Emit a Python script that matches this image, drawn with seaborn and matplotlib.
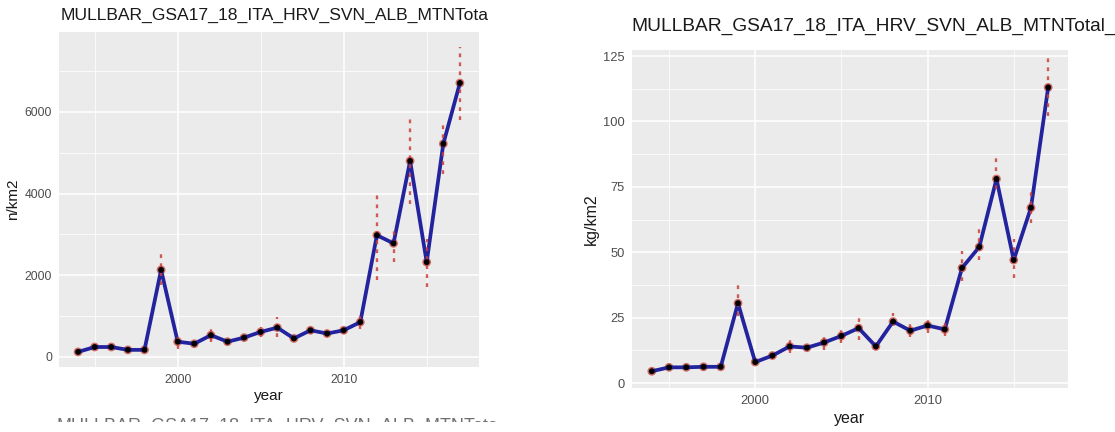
import matplotlib
matplotlib.use("Agg")
import matplotlib.pyplot as plt
from matplotlib.ticker import MultipleLocator
from matplotlib.patches import Rectangle
import seaborn as sns
import pandas as pd

# ---- data -------------------------------------------------------------
years = list(range(1994, 2018))

# abundance index (n/km2) with lower / upper bounds
dens = [120, 240, 240, 170, 170, 2130, 370, 320, 530, 370, 470, 610,
        715, 450, 650, 570, 650, 850, 2980, 2780, 4800, 2320, 5220, 6710]
dens_lo = [80, 200, 200, 130, 130, 1750, 200, 260, 370, 300, 400, 490,
           490, 380, 570, 490, 570, 690, 1870, 2320, 3740, 1720, 4470, 5810]
dens_hi = [160, 280, 280, 210, 210, 2560, 490, 380, 690, 440, 610, 730,
           980, 520, 750, 650, 770, 1060, 4020, 3210, 5850, 2890, 5730, 7600]

# biomass index (kg/km2) with lower / upper bounds
biom = [4.5, 6, 6, 6.2, 6.2, 30.5, 8, 10.5, 14, 13.5, 15.5, 18,
        21, 14, 23.5, 20, 22, 20.5, 44, 52, 78, 47, 67, 113]
biom_lo = [3.5, 5, 5, 5.2, 5.2, 25.5, 7, 9, 11.5, 12.5, 12.8, 15.3,
           16.6, 12.8, 22, 17.6, 19, 18, 39, 47, 74, 40.2, 61, 102]
biom_hi = [5.5, 7, 7, 7.2, 7.2, 37.6, 9, 12, 17.2, 15.3, 18.5, 20.4,
           26.5, 15.3, 26.8, 23, 24.9, 23.6, 50.4, 58.7, 86.8, 54.9, 74.6, 125]

title_left = "MULLBAR_GSA17_18_ITA_HRV_SVN_ALB_MTNTota"
title_right = "MULLBAR_GSA17_18_ITA_HRV_SVN_ALB_MTNTotal_"

# ---- style ------------------------------------------------------------
sns.set_theme(style="darkgrid", rc={
    "axes.facecolor": "#EBEBEB",
    "grid.color": "white",
    "axes.edgecolor": "#EBEBEB",
})
plt.rcParams["font.family"] = ["Liberation Sans", "DejaVu Sans"]

W, H = 1115, 432
fig = plt.figure(figsize=(W / 100, H / 100), dpi=100)
fig.patch.set_facecolor("white")


def px_axes(left, top, right, bottom):
    return fig.add_axes([left / W, 1 - bottom / H, (right - left) / W, (bottom - top) / H])


LINE_C = "#23239E"
ERR_C = "#C8413A"


def draw_panel(ax, values, lo, hi, ylabel, ylim, ymajor, scale, xpad):
    df = pd.DataFrame({"year": years, "v": values, "lo": lo, "hi": hi})
    ax.set_axisbelow(True)
    ax.grid(which="major", color="white", lw=1.1)
    ax.grid(which="minor", color="white", lw=0.55)
    ax.xaxis.set_major_locator(MultipleLocator(10))
    ax.xaxis.set_minor_locator(MultipleLocator(5))
    ax.yaxis.set_major_locator(MultipleLocator(ymajor))
    ax.yaxis.set_minor_locator(MultipleLocator(ymajor / 2))

    # red points, blue trend line, dashed interval bars, black means
    sns.scatterplot(data=df, x="year", y="v", ax=ax, color=ERR_C, s=40,
                    edgecolor="none", alpha=0.75, zorder=2, legend=False)
    sns.lineplot(data=df, x="year", y="v", ax=ax, color=LINE_C, lw=2.7,
                 zorder=3, legend=False)
    ax.vlines(df["year"], df["lo"], df["hi"], colors=ERR_C, lw=1.7,
              linestyles=(0, (1.6, 2.2)), alpha=0.85, zorder=4)
    sns.scatterplot(data=df, x="year", y="v", ax=ax, color="black", s=18,
                    edgecolor="none", zorder=5, legend=False)

    ax.set_xlim(1992.85, 2018.15)
    ax.set_ylim(*ylim)
    ax.set_xlabel("year", fontsize=11 * scale, color="#1A1A1A", labelpad=xpad)
    ax.set_ylabel(ylabel, fontsize=11 * scale, color="#1A1A1A", labelpad=3)
    ax.tick_params(which="major", length=3, width=0.8, color="#333333",
                   labelsize=8.8 * scale, labelcolor="#4D4D4D", pad=2)
    ax.tick_params(which="minor", length=0)
    for s in ax.spines.values():
        s.set_visible(False)


ax1 = px_axes(59, 32, 479, 367)
ax2 = px_axes(632, 50, 1068, 388)

draw_panel(ax1, dens, dens_lo, dens_hi, "n/km2", (-250, 7960), 2000, 1.0, 2)
draw_panel(ax2, biom, biom_lo, biom_hi, "kg/km2", (-1.9, 127.3), 25, 1.05, 3)

fig.text(61 / W, 1 - 15 / H, title_left, fontsize=12.6, color="#1A1A1A",
         ha="left", va="center")
fig.text(631 / W, 1 - 26 / H, title_right, fontsize=13.8, color="#1A1A1A",
         ha="left", va="center")

# title row of the next panel, mostly hidden below
fig.text(56 / W, 1 - 418 / H, title_left, fontsize=13.0, color="#333333",
         ha="left", va="top", alpha=0.7, zorder=1)
fig.add_artist(Rectangle((0, 0), 560 / W, (H - 421.5) / H, transform=fig.transFigure,
                         facecolor="white", edgecolor="none", zorder=20))

fig.savefig("out.png", dpi=100, facecolor="white")
